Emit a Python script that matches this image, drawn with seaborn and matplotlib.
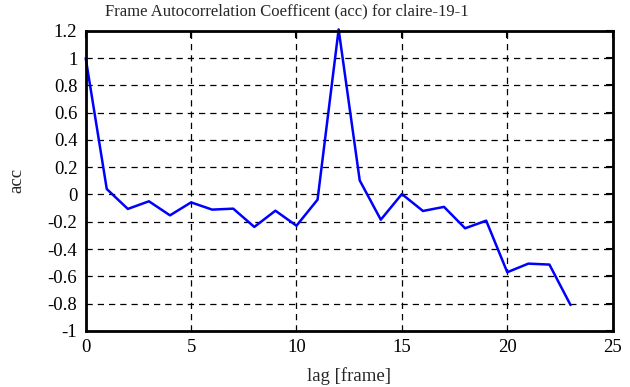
import matplotlib
matplotlib.use("Agg")
import matplotlib.pyplot as plt
import seaborn as sns
import pandas as pd

lags = list(range(24))
acc = [1.0, 0.04, -0.106, -0.05, -0.153, -0.058, -0.111, -0.104, -0.238, -0.119,
       -0.229, -0.038, 1.21, 0.103, -0.185, 0.003, -0.121, -0.091, -0.248, -0.192,
       -0.57, -0.507, -0.514, -0.81]
xticks = [0, 5, 10, 15, 20, 25]
yticks = [-1, -0.8, -0.6, -0.4, -0.2, 0, 0.2, 0.4, 0.6, 0.8, 1, 1.2]
ytick_labels = ["-1", "-0.8", "-0.6", "-0.4", "-0.2", "0", "0.2", "0.4", "0.6", "0.8", "1", "1.2"]

df = pd.DataFrame({"lag": lags, "acc": acc})

sns.set_style("white")
plt.rcParams['font.family'] = ['Liberation Serif', 'DejaVu Serif']

fig = plt.figure(figsize=(6.3, 3.87), dpi=100)
ax = fig.add_axes([0.136, 0.145, 0.8365, 0.7755])

sns.lineplot(data=df, x="lag", y="acc", ax=ax, color="#0000ff", linewidth=1.8, clip_on=False)

ax.set_xlim(0, 25)
ax.set_ylim(-1, 1.2)
ax.set_xticks(xticks)
ax.set_xticklabels([str(t) for t in xticks])
ax.set_yticks(yticks)
ax.set_yticklabels(ytick_labels)
ax.grid(True, color="black", linestyle=(0, (5, 4)), linewidth=0.9)
ax.tick_params(direction="in", length=5, width=1.5, top=True, right=True,
               labelsize=13.5, pad=6, colors="black")
for s in ax.spines.values():
    s.set_color("black")
    s.set_linewidth(2)

fig.text(287 / 630, 1 - 11 / 387, "Frame Autocorrelation Coefficent (acc) for claire-19-1",
         fontsize=12, ha="center", va="center")
ax.set_xlabel("lag [frame]", fontsize=13.5, labelpad=8)
ax.set_ylabel("acc", fontsize=13.5, labelpad=16)

fig.savefig("out.png", dpi=100)
